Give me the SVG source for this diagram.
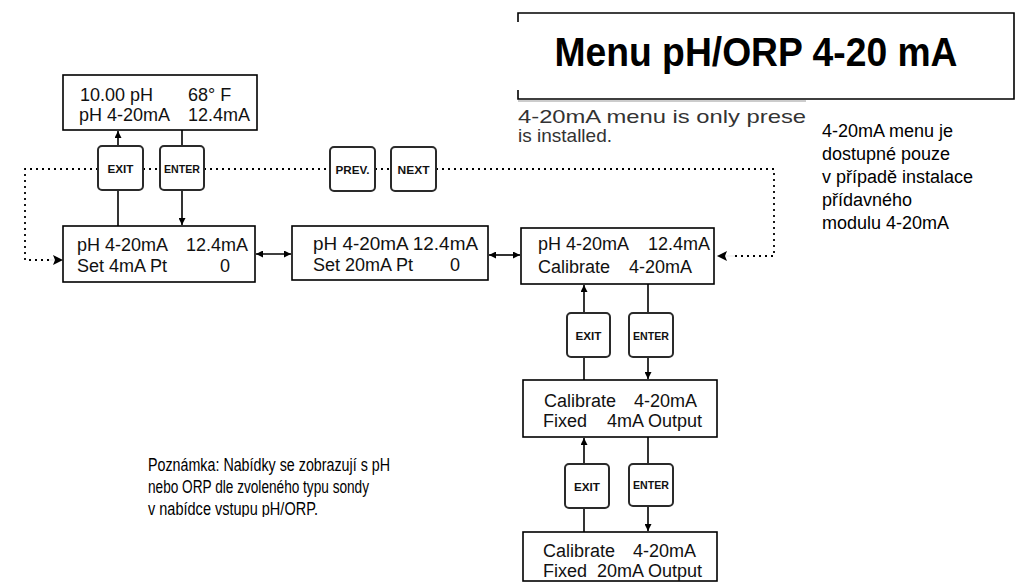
<svg xmlns="http://www.w3.org/2000/svg" width="1028" height="583" viewBox="0 0 1028 583">
  <style>
    .lcd { fill: #fff; stroke: #000; stroke-width: 1.6; }
    .lt { font-family: "Liberation Sans", Arial, sans-serif; font-size: 18px; fill: #111; }
    .btn { fill: #fff; stroke: #2a2a2a; stroke-width: 2; }
    .bl { font-family: "Liberation Sans", Arial, sans-serif; font-size: 10px; font-weight: bold; fill: #111; text-anchor: middle; }
    .ln { stroke: #000; stroke-width: 1.6; fill: none; }
    .dot { stroke: #000; stroke-width: 1.8; fill: none; stroke-dasharray: 2 4; }
    .note { font-family: "Liberation Sans", Arial, sans-serif; font-size: 18px; fill: #000; }
    .note2 { font-family: "Liberation Sans", Arial, sans-serif; font-size: 17.5px; fill: #000; }
    .en { font-family: "Liberation Sans", Arial, sans-serif; font-size: 19px; fill: #333; }
  </style>
  <defs>
    <marker id="ah" viewBox="0 0 10 10" refX="10" refY="5" markerWidth="7" markerHeight="7" markerUnits="userSpaceOnUse" orient="auto-start-reverse">
      <path d="M0,0 L10,5 L0,10 z" fill="#000"/>
    </marker>
    <marker id="ahBig" viewBox="0 0 10 10" refX="10" refY="5" markerWidth="14" markerHeight="10" markerUnits="userSpaceOnUse" orient="auto">
      <path d="M0,0 L10,5 L0,10 L2,5 z" fill="#000"/>
    </marker>
    <clipPath id="clipNote"><rect x="100" y="440" width="320" height="77"/></clipPath>
  </defs>
  <rect width="1028" height="583" fill="#fff"/>

  <!-- title frame -->
  <g id="title">
    <path class="ln" d="M518,22 V13 H1014 V99 H518 V90"/>
    <line x1="518" y1="101" x2="806" y2="101" stroke="#999" stroke-width="1"/>
    <text x="756" y="66" text-anchor="middle" font-family="Liberation Sans, Arial, sans-serif" font-weight="bold" font-size="40" textLength="403" lengthAdjust="spacingAndGlyphs">Menu pH/ORP 4-20 mA</text>
  </g>

  <g id="note-en" class="en">
    <text x="518" y="123" textLength="288" lengthAdjust="spacingAndGlyphs">4-20mA menu is only prese</text>
    <text x="518" y="142">is installed.</text>
  </g>

  <g id="note-cz" class="note">
    <text x="822" y="137">4-20mA menu je</text>
    <text x="822" y="160">dostupné pouze</text>
    <text x="822" y="183">v případě instalace</text>
    <text x="822" y="206">přídavného</text>
    <text x="822" y="229">modulu 4-20mA</text>
  </g>

  <g id="note-probe" class="note2" clip-path="url(#clipNote)">
    <text x="148" y="471" textLength="242" lengthAdjust="spacingAndGlyphs">Poznámka: Nabídky se zobrazují s pH</text>
    <text x="148" y="493" textLength="221" lengthAdjust="spacingAndGlyphs">nebo ORP dle zvoleného typu sondy</text>
    <text x="148" y="515" textLength="170" lengthAdjust="spacingAndGlyphs">v nabídce vstupu pH/ORP.</text>
  </g>

  <!-- connectors -->
  <g id="connectors">
    <!-- dotted PREV/NEXT loop -->
    <path class="dot" d="M98,169 H25 V260 H50"/>
    <line x1="48" y1="260" x2="63" y2="260" stroke="#000" stroke-width="0.1" marker-end="url(#ahBig)"/>
    <line class="dot" x1="143" y1="169" x2="160" y2="169"/>
    <line class="dot" x1="204" y1="169" x2="330" y2="169"/>
    <line class="dot" x1="375" y1="169" x2="391" y2="169"/>
    <path class="dot" d="M436,169 H774 V256 H733"/>
    <line x1="735" y1="256" x2="717" y2="256" stroke="#000" stroke-width="0.1" marker-end="url(#ahBig)"/>

    <!-- top EXIT / ENTER -->
    <line class="ln" x1="118" y1="146" x2="118" y2="131" marker-end="url(#ah)"/>
    <line class="ln" x1="118" y1="190" x2="118" y2="226"/>
    <line class="ln" x1="182" y1="130" x2="182" y2="146"/>
    <line class="ln" x1="182" y1="190" x2="182" y2="225" marker-end="url(#ah)"/>

    <!-- horizontal scrolling -->
    <line class="ln" x1="256" y1="254" x2="291" y2="254" marker-start="url(#ah)" marker-end="url(#ah)" stroke-width="1.2"/>
    <line class="ln" x1="489" y1="255" x2="520" y2="255" marker-start="url(#ah)" marker-end="url(#ah)" stroke-width="1.2"/>

    <!-- calibration column -->
    <line class="ln" x1="584" y1="313" x2="584" y2="285" marker-end="url(#ah)"/>
    <line class="ln" x1="584" y1="357" x2="584" y2="380"/>
    <line class="ln" x1="648" y1="284" x2="648" y2="313"/>
    <line class="ln" x1="648" y1="357" x2="648" y2="379" marker-end="url(#ah)"/>
    <line class="ln" x1="584" y1="464" x2="584" y2="438" marker-end="url(#ah)"/>
    <line class="ln" x1="584" y1="508" x2="584" y2="532"/>
    <line class="ln" x1="648" y1="437" x2="648" y2="464"/>
    <line class="ln" x1="648" y1="506" x2="648" y2="531" marker-end="url(#ah)"/>
  </g>

  <!-- display screens -->
  <g id="screen-main">
    <rect class="lcd" x="63" y="75" width="194" height="55"/>
    <text class="lt" x="80" y="101">10.00 pH</text>
    <text class="lt" x="188" y="101">68° F</text>
    <text class="lt" x="79" y="121">pH 4-20mA</text>
    <text class="lt" x="250" y="121" text-anchor="end">12.4mA</text>
  </g>

  <g id="screen-4ma">
    <rect class="lcd" x="63" y="226" width="192" height="56"/>
    <text class="lt" x="77" y="251">pH 4-20mA</text>
    <text class="lt" x="248" y="251" text-anchor="end">12.4mA</text>
    <text class="lt" x="77" y="272">Set 4mA Pt</text>
    <text class="lt" x="220" y="272">0</text>
  </g>

  <g id="screen-20ma">
    <rect class="lcd" x="292" y="226" width="196" height="54"/>
    <text class="lt" x="313" y="250" textLength="165" lengthAdjust="spacingAndGlyphs">pH 4-20mA 12.4mA</text>
    <text class="lt" x="313" y="271">Set 20mA Pt</text>
    <text class="lt" x="450" y="271">0</text>
  </g>

  <g id="screen-calibrate">
    <rect class="lcd" x="521" y="228" width="193" height="56"/>
    <text class="lt" x="538" y="250">pH 4-20mA</text>
    <text class="lt" x="710" y="250" text-anchor="end">12.4mA</text>
    <text class="lt" x="538" y="273">Calibrate</text>
    <text class="lt" x="692" y="273" text-anchor="end">4-20mA</text>
  </g>

  <g id="screen-fixed4">
    <rect class="lcd" x="523" y="380" width="194" height="57"/>
    <text class="lt" x="544" y="407">Calibrate</text>
    <text class="lt" x="697" y="407" text-anchor="end">4-20mA</text>
    <text class="lt" x="543" y="427">Fixed</text>
    <text class="lt" x="702" y="427" text-anchor="end">4mA Output</text>
  </g>

  <g id="screen-fixed20">
    <rect class="lcd" x="523" y="532" width="194" height="49"/>
    <text class="lt" x="543" y="557">Calibrate</text>
    <text class="lt" x="696" y="557" text-anchor="end">4-20mA</text>
    <text class="lt" x="543" y="577">Fixed</text>
    <text class="lt" x="702" y="577" text-anchor="end">20mA Output</text>
  </g>

  <!-- keypad buttons -->
  <g id="btn-exit-top"><rect class="btn" x="98" y="146" width="45" height="44" rx="4"/><text class="bl" x="120.5" y="172.5" textLength="26" lengthAdjust="spacingAndGlyphs">EXIT</text></g>
  <g id="btn-enter-top"><rect class="btn" x="160" y="146" width="44" height="44" rx="4"/><text class="bl" x="182" y="172.5" textLength="36" lengthAdjust="spacingAndGlyphs">ENTER</text></g>
  <g id="btn-prev"><rect class="btn" x="330" y="147" width="45" height="44" rx="4"/><text class="bl" x="352.5" y="173.5" textLength="34" lengthAdjust="spacingAndGlyphs">PREV.</text></g>
  <g id="btn-next"><rect class="btn" x="391" y="147" width="45" height="44" rx="4"/><text class="bl" x="413.5" y="173.5" textLength="32" lengthAdjust="spacingAndGlyphs">NEXT</text></g>
  <g id="btn-exit-cal"><rect class="btn" x="567" y="313" width="43" height="44" rx="4"/><text class="bl" x="588.5" y="339.5" textLength="26" lengthAdjust="spacingAndGlyphs">EXIT</text></g>
  <g id="btn-enter-cal"><rect class="btn" x="629" y="313" width="44" height="44" rx="4"/><text class="bl" x="651" y="339.5" textLength="36" lengthAdjust="spacingAndGlyphs">ENTER</text></g>
  <g id="btn-exit-fix"><rect class="btn" x="565" y="464" width="44" height="44" rx="4"/><text class="bl" x="587" y="490.5" textLength="26" lengthAdjust="spacingAndGlyphs">EXIT</text></g>
  <g id="btn-enter-fix"><rect class="btn" x="629" y="464" width="44" height="42" rx="4"/><text class="bl" x="651" y="488.5" textLength="36" lengthAdjust="spacingAndGlyphs">ENTER</text></g>
</svg>
